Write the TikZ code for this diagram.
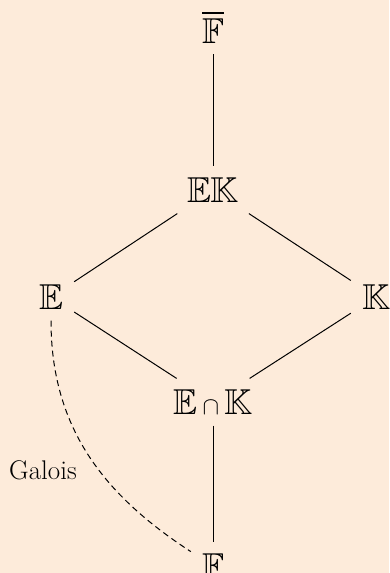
\documentclass[tikz,border=0pt]{standalone}
\usepackage{amssymb}
\renewcommand{\rmdefault}{ppl}
\definecolor{bgpeach}{RGB}{253,235,218}
\begin{document}
\begin{tikzpicture}[x=1pt,y=-1pt,
  fld/.style={inner sep=11pt,font=\fontsize{36}{42}\selectfont},
  lbl/.style={inner sep=0pt,font=\fontsize{27}{32}\selectfont},
  conn/.style={line width=1pt},
  galois/.style={line width=1pt,dash pattern=on 6pt off 4pt}]
\fill[bgpeach] (0,0) rectangle (389,573);
\useasboundingbox (0,0) rectangle (389,573);
\node[fld] (fbar) at (213,27) {$\overline{\mathbb{F}}$};
\node[fld] (ek) at (213,190) {$\mathbb{E}\mathbb{K}$};
\node[fld] (e) at (51,297) {$\mathbb{E}$};
\node[fld] (k) at (376,297) {$\mathbb{K}$};
\node[fld] (ei) at (213,402) {$\mathbb{E}\cap\mathbb{K}$};
\node[fld] (f) at (213,566) {$\mathbb{F}$};
\node[lbl] (gal) at (43,470) {Galois};
\draw[conn] (fbar) -- (ek);
\draw[conn] (ek) -- (e);
\draw[conn] (ek) -- (k);
\draw[conn] (e) -- (ei);
\draw[conn] (k) -- (ei);
\draw[conn] (ei) -- (f);
\draw[galois] (e) to[out=-90,in=147] (f);
\end{tikzpicture}
\end{document}
